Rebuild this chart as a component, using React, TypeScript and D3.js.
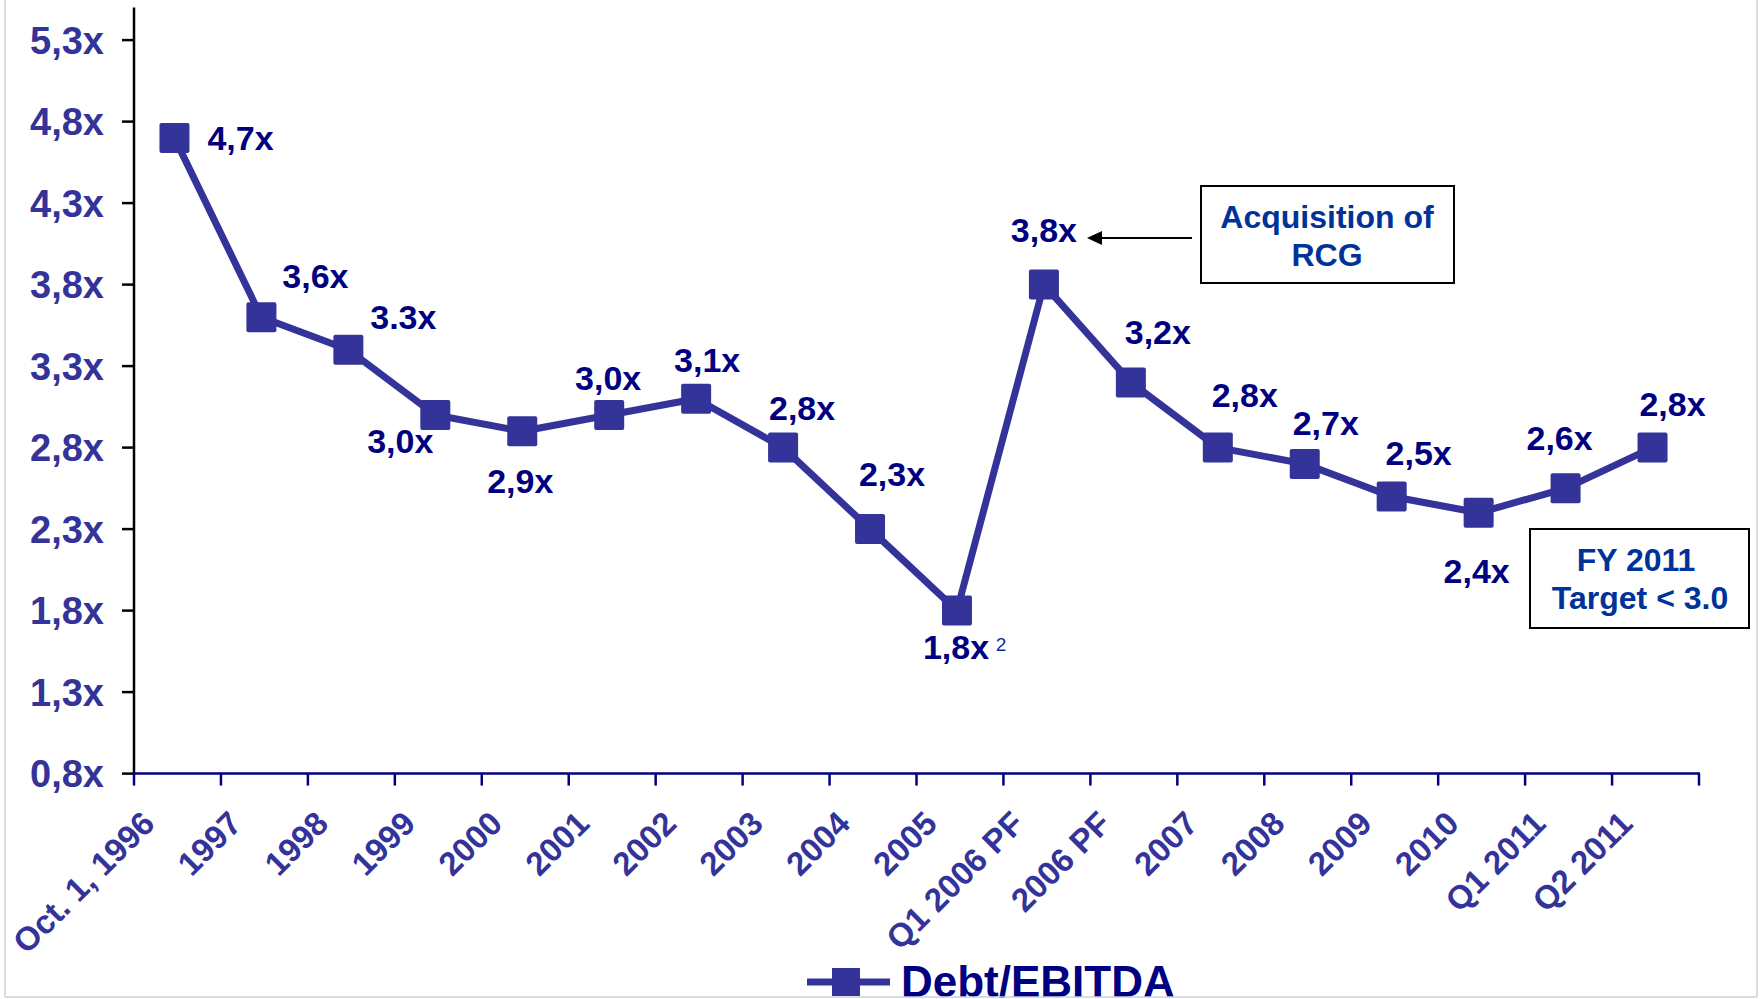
import React from 'react';
import * as d3 from 'd3';

const categories = ['Oct. 1, 1996', '1997', '1998', '1999', '2000', '2001', '2002', '2003', '2004', '2005', 'Q1 2006 PF', '2006 PF', '2007', '2008', '2009', '2010', 'Q1 2011', 'Q2 2011'];
const values = [4.7, 3.6, 3.4, 3.0, 2.9, 3.0, 3.1, 2.8, 2.3, 1.8, 3.8, 3.2, 2.8, 2.7, 2.5, 2.4, 2.55, 2.8];
const valueLabels = ['4,7x', '3,6x', '3.3x', '3,0x', '2,9x', '3,0x', '3,1x', '2,8x', '2,3x', '1,8x', '3,8x', '3,2x', '2,8x', '2,7x', '2,5x', '2,4x', '2,6x', '2,8x'];
const yTicks = [0.8, 1.3, 1.8, 2.3, 2.8, 3.3, 3.8, 4.3, 4.8, 5.3];
const yTickLabels = ['0,8x', '1,3x', '1,8x', '2,3x', '2,8x', '3,3x', '3,8x', '4,3x', '4,8x', '5,3x'];
const seriesName = 'Debt/EBITDA';

// label placement offsets (px) relative to each marker centre
const labelDx = [66, 54, 55, -35, -2, -1, 11, 19, 22, -1, 0, 27, 27, 21, 27, -2, -6, 20];
const labelDy = [4, -38, -29, 29, 53, -34, -35, -36, -52, 40, -51, -47, -49, -37, -40, 62, -47, -40];

const W = 1763;
const H = 999;
const left = 134;
const right = 1699;
const axisY = 773.6;

export default function App() {
  const x = d3.scaleBand<string>().domain(categories).range([left, right]).paddingInner(0).paddingOuter(0);
  const y = d3.scaleLinear().domain([0.8, 5.5]).range([axisY, 7.5]);
  const cx = (i: number) => (x(categories[i]) as number) + x.bandwidth() / 2 - 3;
  const pts: [number, number][] = values.map((v, i) => [cx(i), y(v)]);
  const line = d3.line<[number, number]>().x(d => d[0]).y(d => d[1])(pts) || '';
  const tickXs = categories.map(c => x(c) as number).concat([right]);
  const font = '"Liberation Sans", Arial, sans-serif';
  const markerColor = '#333399';
  const navy = '#000080';
  const blue = '#003399';
  const ms = 30;

  return (
    <svg width={W} height={H} style={{ position: 'absolute', left: 0, top: 0, background: '#fff' }} fontFamily={font}>
      <rect x={0} y={0} width={W} height={H} fill="#fff" />

      {/* y axis */}
      <line x1={left} y1={y(5.5)} x2={left} y2={axisY} stroke="#000" strokeWidth={2.5} />
      {yTicks.map((t, i) => (
        <g key={'yt' + i}>
          <line x1={left - 12} x2={left} y1={y(t)} y2={y(t)} stroke="#000" strokeWidth={2.5} />
          <text x={104} y={y(t) + 13.5} textAnchor="end" fontSize={38} fontWeight="bold" fill={markerColor}>
            {yTickLabels[i]}
          </text>
        </g>
      ))}

      {/* x axis */}
      <line x1={left} y1={axisY} x2={right + 1} y2={axisY} stroke={navy} strokeWidth={2.5} />
      {tickXs.map((tx, i) => (
        <line key={'xt' + i} x1={tx} x2={tx} y1={axisY} y2={axisY + 12} stroke={navy} strokeWidth={2.5} />
      ))}
      {categories.map((c, i) => {
        const px = (x(c) as number) + x.bandwidth() / 2 - 21;
        const py = axisY + 52;
        return (
          <text key={'xl' + i} x={px} y={py} transform={`rotate(-45 ${px} ${py})`} textAnchor="end" fontSize={33} fontWeight="bold" fill={markerColor}>
            {c}
          </text>
        );
      })}

      {/* series line */}
      <path d={line} fill="none" stroke={markerColor} strokeWidth={7} strokeLinejoin="round" />
      {pts.map((p, i) => (
        <rect key={'m' + i} x={p[0] - ms / 2} y={p[1] - ms / 2} width={ms} height={ms} rx={2} fill={markerColor} />
      ))}

      {/* data labels */}
      {pts.map((p, i) => (
        <text key={'dl' + i} x={p[0] + labelDx[i]} y={p[1] + labelDy[i] + 8.5} textAnchor="middle" fontSize={34} fontWeight="bold" fill={navy}>
          {valueLabels[i]}
        </text>
      ))}
      <text x={pts[9][0] + 44} y={pts[9][1] + 35 + 5} textAnchor="middle" fontSize={19} fill={blue}>2</text>

      {/* RCG annotation */}
      <rect x={1201} y={186} width={253} height={97} fill="#fff" stroke="#000" strokeWidth={2} />
      <text x={1327} y={228} textAnchor="middle" fontSize={32} fontWeight="bold" fill={blue}>Acquisition of</text>
      <text x={1327} y={266} textAnchor="middle" fontSize={32} fontWeight="bold" fill={blue}>RCG</text>
      <line x1={1192} y1={238} x2={1100} y2={238} stroke="#000" strokeWidth={2} />
      <path d="M1087,238 L1102,231 L1102,245 Z" fill="#000" />

      {/* target annotation */}
      <rect x={1530} y={529} width={219} height={99} fill="#fff" stroke="#000" strokeWidth={2} />
      <text x={1636} y={571} textAnchor="middle" fontSize={32} fontWeight="bold" fill={blue}>FY 2011</text>
      <text x={1640} y={609} textAnchor="middle" fontSize={32} fontWeight="bold" fill={blue}>Target &lt; 3.0</text>

      {/* legend */}
      <line x1={807} y1={982} x2={890} y2={982} stroke={markerColor} strokeWidth={7} />
      <rect x={846 - 14} y={982 - 14} width={28} height={28} fill={markerColor} />
      <text x={901} y={997} fontSize={44} fontWeight="bold" fill={navy}>{seriesName}</text>

      {/* frame */}
      <line x1={5} y1={0} x2={5} y2={997} stroke="#c9d3dc" strokeWidth={1.5} />
      <line x1={1757} y1={0} x2={1757} y2={997} stroke="#c9d3dc" strokeWidth={1.5} />
      <line x1={5} y1={997} x2={1757} y2={997} stroke="#c9d3dc" strokeWidth={1.5} />
      <rect x={0} y={998} width={W} height={1} fill="#fff" />
    </svg>
  );
}
